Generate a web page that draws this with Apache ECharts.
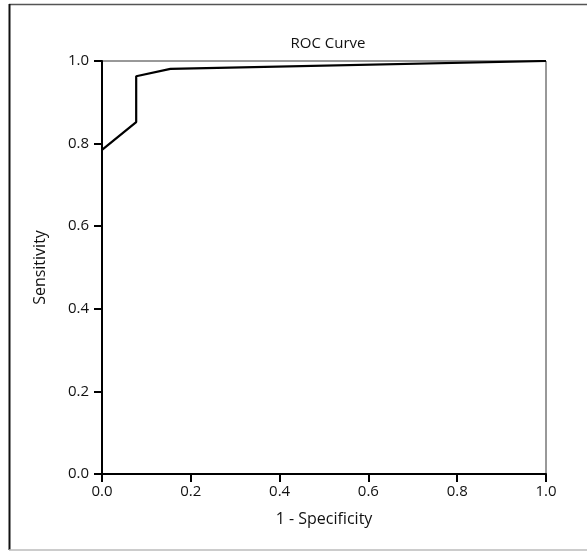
<!DOCTYPE html>
<html>
<head>
<meta charset="utf-8">
<script src="https://cdn.jsdelivr.net/npm/echarts@6/dist/echarts.min.js"></script>
<style>
  html, body { margin: 0; padding: 0; background: #fff; }
  #main { width: 587px; height: 552px; }
</style>
</head>
<body>
<div id="main"></div>
<script>
// ROC points: 1 - specificity vs sensitivity
var fpr = [0, 0.077, 0.077, 0.154, 1];
var tpr = [0.785, 0.852, 0.963, 0.981, 1];

var font = 'Open Sans';
var chart = echarts.init(document.getElementById('main'));

var points = fpr.map(function (x, i) { return [x, tpr[i]]; });

var option = {
  backgroundColor: '#fff',
  animation: false,
  title: {
    text: 'ROC Curve',
    left: 323,
    top: 31,
    textAlign: 'center',
    textStyle: { fontFamily: font, fontSize: 15, fontWeight: 'normal', color: '#111' }
  },
  grid: {
    left: 102, right: 41, top: 61, bottom: 78,
    show: true, borderColor: '#333', borderWidth: 1
  },
  xAxis: {
    type: 'value', min: 0, max: 1, interval: 0.2,
    name: '1 - Specificity', nameLocation: 'middle', nameGap: 37,
    nameTextStyle: { fontFamily: font, fontSize: 16, color: '#111' },
    axisLine: { show: true, lineStyle: { color: '#000', width: 2 } },
    axisTick: { show: true, inside: false, length: 8, lineStyle: { color: '#000', width: 2 } },
    axisLabel: {
      fontFamily: font, fontSize: 15, color: '#111', margin: 10,
      formatter: function (v) { return v.toFixed(1); }
    },
    splitLine: { show: false }
  },
  yAxis: {
    type: 'value', min: 0, max: 1, interval: 0.2,
    name: 'Sensitivity', nameLocation: 'middle', nameGap: 54,
    nameTextStyle: { fontFamily: font, fontSize: 16, color: '#111' },
    axisLine: { show: true, lineStyle: { color: '#000', width: 2 } },
    axisTick: { show: true, inside: false, length: 8, lineStyle: { color: '#000', width: 2 } },
    axisLabel: {
      fontFamily: font, fontSize: 15, color: '#111', margin: 13,
      formatter: function (v) { return v.toFixed(1); }
    },
    splitLine: { show: false }
  },
  series: [{
    type: 'line',
    data: points,
    showSymbol: false,
    lineStyle: { color: '#000', width: 2.2 },
    z: 3
  }],
  graphic: [
    { type: 'line', shape: { x1: 9, y1: 4.5, x2: 587, y2: 4.5 }, style: { stroke: '#555', lineWidth: 1.5 } },
    { type: 'line', shape: { x1: 9.5, y1: 4, x2: 9.5, y2: 550 }, style: { stroke: '#111', lineWidth: 2 } },
    { type: 'line', shape: { x1: 9, y1: 550, x2: 587, y2: 550 }, style: { stroke: '#bbb', lineWidth: 1.5 } }
  ]
};

chart.setOption(option);
</script>
</body>
</html>
